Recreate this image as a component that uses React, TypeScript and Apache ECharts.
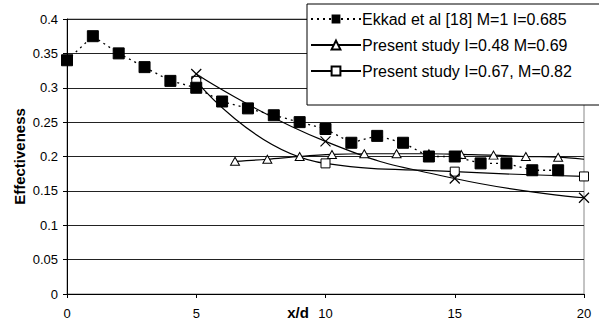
import React, { useEffect, useRef } from "react";
import * as echarts from "echarts";

// Film-cooling effectiveness along the wall, x/d downstream of the hole
const ekkadX = [0, 1, 2, 3, 4, 5, 6, 7, 8, 9, 10, 11, 12, 13, 14, 15, 16, 17, 18, 19];
const ekkadY = [0.34, 0.375, 0.35, 0.33, 0.31, 0.3, 0.28, 0.27, 0.26, 0.25, 0.24, 0.22, 0.23, 0.22, 0.2, 0.2, 0.19, 0.19, 0.18, 0.18];

const lowBlowX = [6.5, 7.75, 9, 10.25, 11.5, 12.75, 14, 15.25, 16.5, 17.75, 19, 20];
const lowBlowY = [0.193, 0.196, 0.2, 0.203, 0.204, 0.204, 0.204, 0.203, 0.202, 0.2, 0.199, 0.196];

const highBlowX = [5, 10, 15, 20];
const highBlowY = [0.31, 0.19, 0.178, 0.171];

const crossX = [5, 10, 15, 20];
const crossY = [0.32, 0.222, 0.168, 0.14];

const names = [
  "Ekkad et al [18] M=1 I=0.685",
  "Present study I=0.48 M=0.69",
  "Present study I=0.67, M=0.82",
];

const FONT = "'Liberation Sans', Arial, Helvetica, sans-serif";

const pairs = (xs: number[], ys: number[]) => xs.map((x, i) => [x, ys[i]]);

export default function App() {
  const ref = useRef<HTMLDivElement>(null);

  useEffect(() => {
    if (!ref.current) return;
    const chart = echarts.init(ref.current, undefined, { renderer: "svg" });

    const lowBlowData = pairs(lowBlowX, lowBlowY).map((p, i) =>
      i === lowBlowX.length - 1 ? { value: p, symbol: "none" } : { value: p }
    );

    chart.setOption({
      animation: false,
      backgroundColor: "#fff",
      textStyle: { fontFamily: FONT, color: "#000" },
      grid: {
        left: 67,
        right: 15,
        top: 19,
        bottom: 31,
        outerBoundsMode: "none",
        containLabel: false,
        show: true,
        borderColor: "#888",
        borderWidth: 1,
        backgroundColor: "transparent",
      },
      legend: {
        data: names,
        orient: "vertical",
        left: 307,
        top: 4,
        padding: [7, 31, 26, 3],
        itemGap: 10,
        itemWidth: 50,
        itemHeight: 11,
        backgroundColor: "#fff",
        borderColor: "#000",
        borderWidth: 1,
        borderRadius: 0,
        textStyle: { fontFamily: FONT, fontSize: 16, color: "#000", padding: [0, 0, 0, -4] },
      },
      xAxis: {
        type: "value",
        min: 0,
        max: 20,
        interval: 5,
        name: "x/d",
        nameLocation: "middle",
        nameGap: 11,
        nameMoveOverlap: false,
        nameTextStyle: {
          fontFamily: FONT,
          fontSize: 15,
          fontWeight: "bold",
          color: "#000",
          padding: [0, 55, 0, 0],
        },
        axisLine: { show: true, lineStyle: { color: "#000", width: 1 } },
        axisTick: { show: true, inside: false, length: 4, lineStyle: { color: "#000" } },
        axisLabel: { fontFamily: FONT, fontSize: 13, color: "#000", margin: 13 },
        splitLine: { show: false },
      },
      yAxis: {
        type: "value",
        min: 0,
        max: 0.4,
        interval: 0.05,
        name: "Effectiveness",
        nameLocation: "middle",
        nameGap: 40,
        nameMoveOverlap: false,
        nameTextStyle: { fontFamily: FONT, fontSize: 15, fontWeight: "bold", color: "#000" },
        axisLine: { show: true, lineStyle: { color: "#000", width: 1 } },
        axisTick: { show: true, inside: false, length: 4, lineStyle: { color: "#000" } },
        axisLabel: { fontFamily: FONT, fontSize: 13, color: "#000", margin: 9 },
        splitLine: { show: true, lineStyle: { color: "#222", width: 1 } },
      },
      series: [
        {
          name: names[0],
          type: "line",
          z: 4,
          data: pairs(ekkadX, ekkadY),
          symbol: "rect",
          symbolSize: 11,
          itemStyle: { color: "#000", borderColor: "#000" },
          lineStyle: { color: "#000", width: 1.3, type: [2, 4] },
        },
        {
          name: names[1],
          type: "line",
          z: 3,
          smooth: 0.3,
          data: lowBlowData,
          symbol: "triangle",
          symbolSize: [9, 8],
          itemStyle: { color: "#fff", borderColor: "#000", borderWidth: 1 },
          lineStyle: { color: "#000", width: 1.2 },
        },
        {
          name: names[2],
          type: "line",
          z: 3,
          smooth: 0.5,
          data: pairs(highBlowX, highBlowY),
          symbol: "rect",
          symbolSize: 9,
          itemStyle: { color: "#fff", borderColor: "#000", borderWidth: 1 },
          lineStyle: { color: "#000", width: 1.2 },
        },
        {
          name: "Present study crosses",
          type: "line",
          z: 3,
          smooth: 0.5,
          data: pairs(crossX, crossY),
          symbol: "path://M0 0L10 10M10 0L0 10",
          symbolSize: 10,
          itemStyle: { color: "none", borderColor: "#000", borderWidth: 1.2 },
          lineStyle: { color: "#000", width: 1.2 },
        },
      ],
    });

    return () => chart.dispose();
  }, []);

  return <div ref={ref} style={{ width: 599, height: 325, position: "absolute", left: 0, top: 0 }} />;
}
